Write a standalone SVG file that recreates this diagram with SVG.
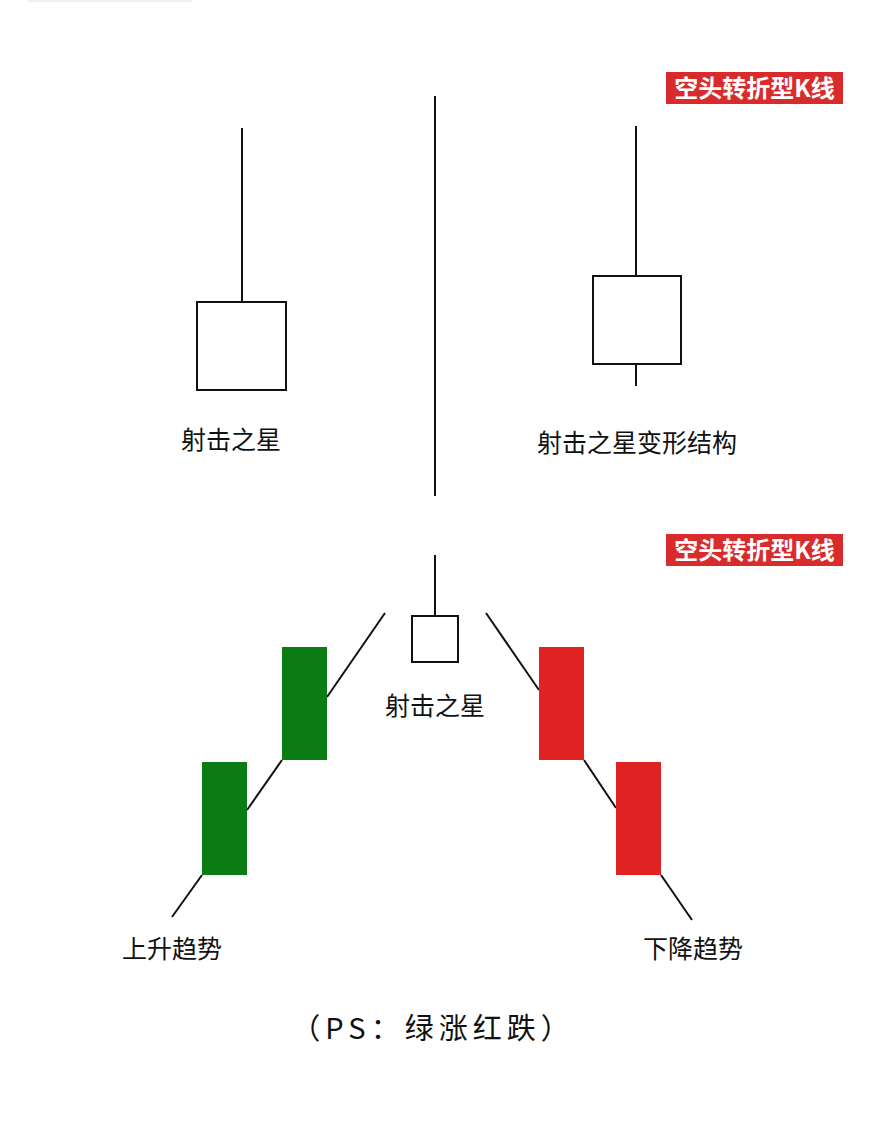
<svg xmlns="http://www.w3.org/2000/svg" width="869" height="1121" viewBox="0 0 869 1121">
<style>
.l{stroke:#111;stroke-width:2;fill:none}
.b{fill:#fff;stroke:#111;stroke-width:2}
.t{font-family:"Noto Sans CJK SC","Noto Sans",sans-serif;font-size:25px;fill:#111;text-anchor:middle}
.tag{fill:#d92b2b}
.tt{font-family:"Noto Sans CJK SC",sans-serif;font-size:24px;font-weight:bold;fill:#fff;text-anchor:middle}
</style>
<rect width="869" height="1121" fill="#fff"/>
<rect x="28" y="0" width="164" height="2" fill="#eee"/>
<g id="tag1"><rect class="tag" x="666" y="72" width="177" height="32"/><text class="tt" x="754.5" y="97">空头转折型K线</text></g>
<g id="tag2"><rect class="tag" x="666" y="534" width="177" height="32"/><text class="tt" x="754.5" y="559">空头转折型K线</text></g>
<g id="divider"><line class="l" x1="435" y1="96" x2="435" y2="496"/></g>
<g id="star1"><line class="l" x1="242" y1="128" x2="242" y2="302"/><rect class="b" x="197" y="302" width="89" height="88"/><text class="t" x="231" y="449">射击之星</text></g>
<g id="star2"><line class="l" x1="636" y1="126" x2="636" y2="386"/><rect class="b" x="593" y="276" width="88" height="88"/><text class="t" x="637" y="452">射击之星变形结构</text></g>
<g id="star3"><line class="l" x1="435" y1="555" x2="435" y2="616"/><rect class="b" x="412" y="616" width="46" height="46"/><text class="t" x="435" y="715">射击之星</text></g>
<g id="connectors">
<line class="l" x1="172" y1="917" x2="202" y2="875"/>
<line class="l" x1="247" y1="810" x2="282" y2="760"/>
<line class="l" x1="327" y1="697" x2="385" y2="613"/>
<line class="l" x1="486" y1="613" x2="539" y2="690"/>
<line class="l" x1="584" y1="760" x2="616" y2="808"/>
<line class="l" x1="661" y1="875" x2="692" y2="920"/>
</g>
<g id="green1"><rect x="202" y="762" width="45" height="113" fill="#0a7c13"/></g>
<g id="green2"><rect x="282" y="647" width="45" height="113" fill="#0a7c13"/></g>
<g id="red1"><rect x="539" y="647" width="45" height="113" fill="#e12222"/></g>
<g id="red2"><rect x="616" y="762" width="45" height="113" fill="#e12222"/></g>
<text class="t" x="172" y="958">上升趋势</text>
<text class="t" x="693" y="958">下降趋势</text>
<text class="t" x="433" y="1039" style="font-size:29px;letter-spacing:5px">（PS：绿涨红跌）</text>
</svg>
